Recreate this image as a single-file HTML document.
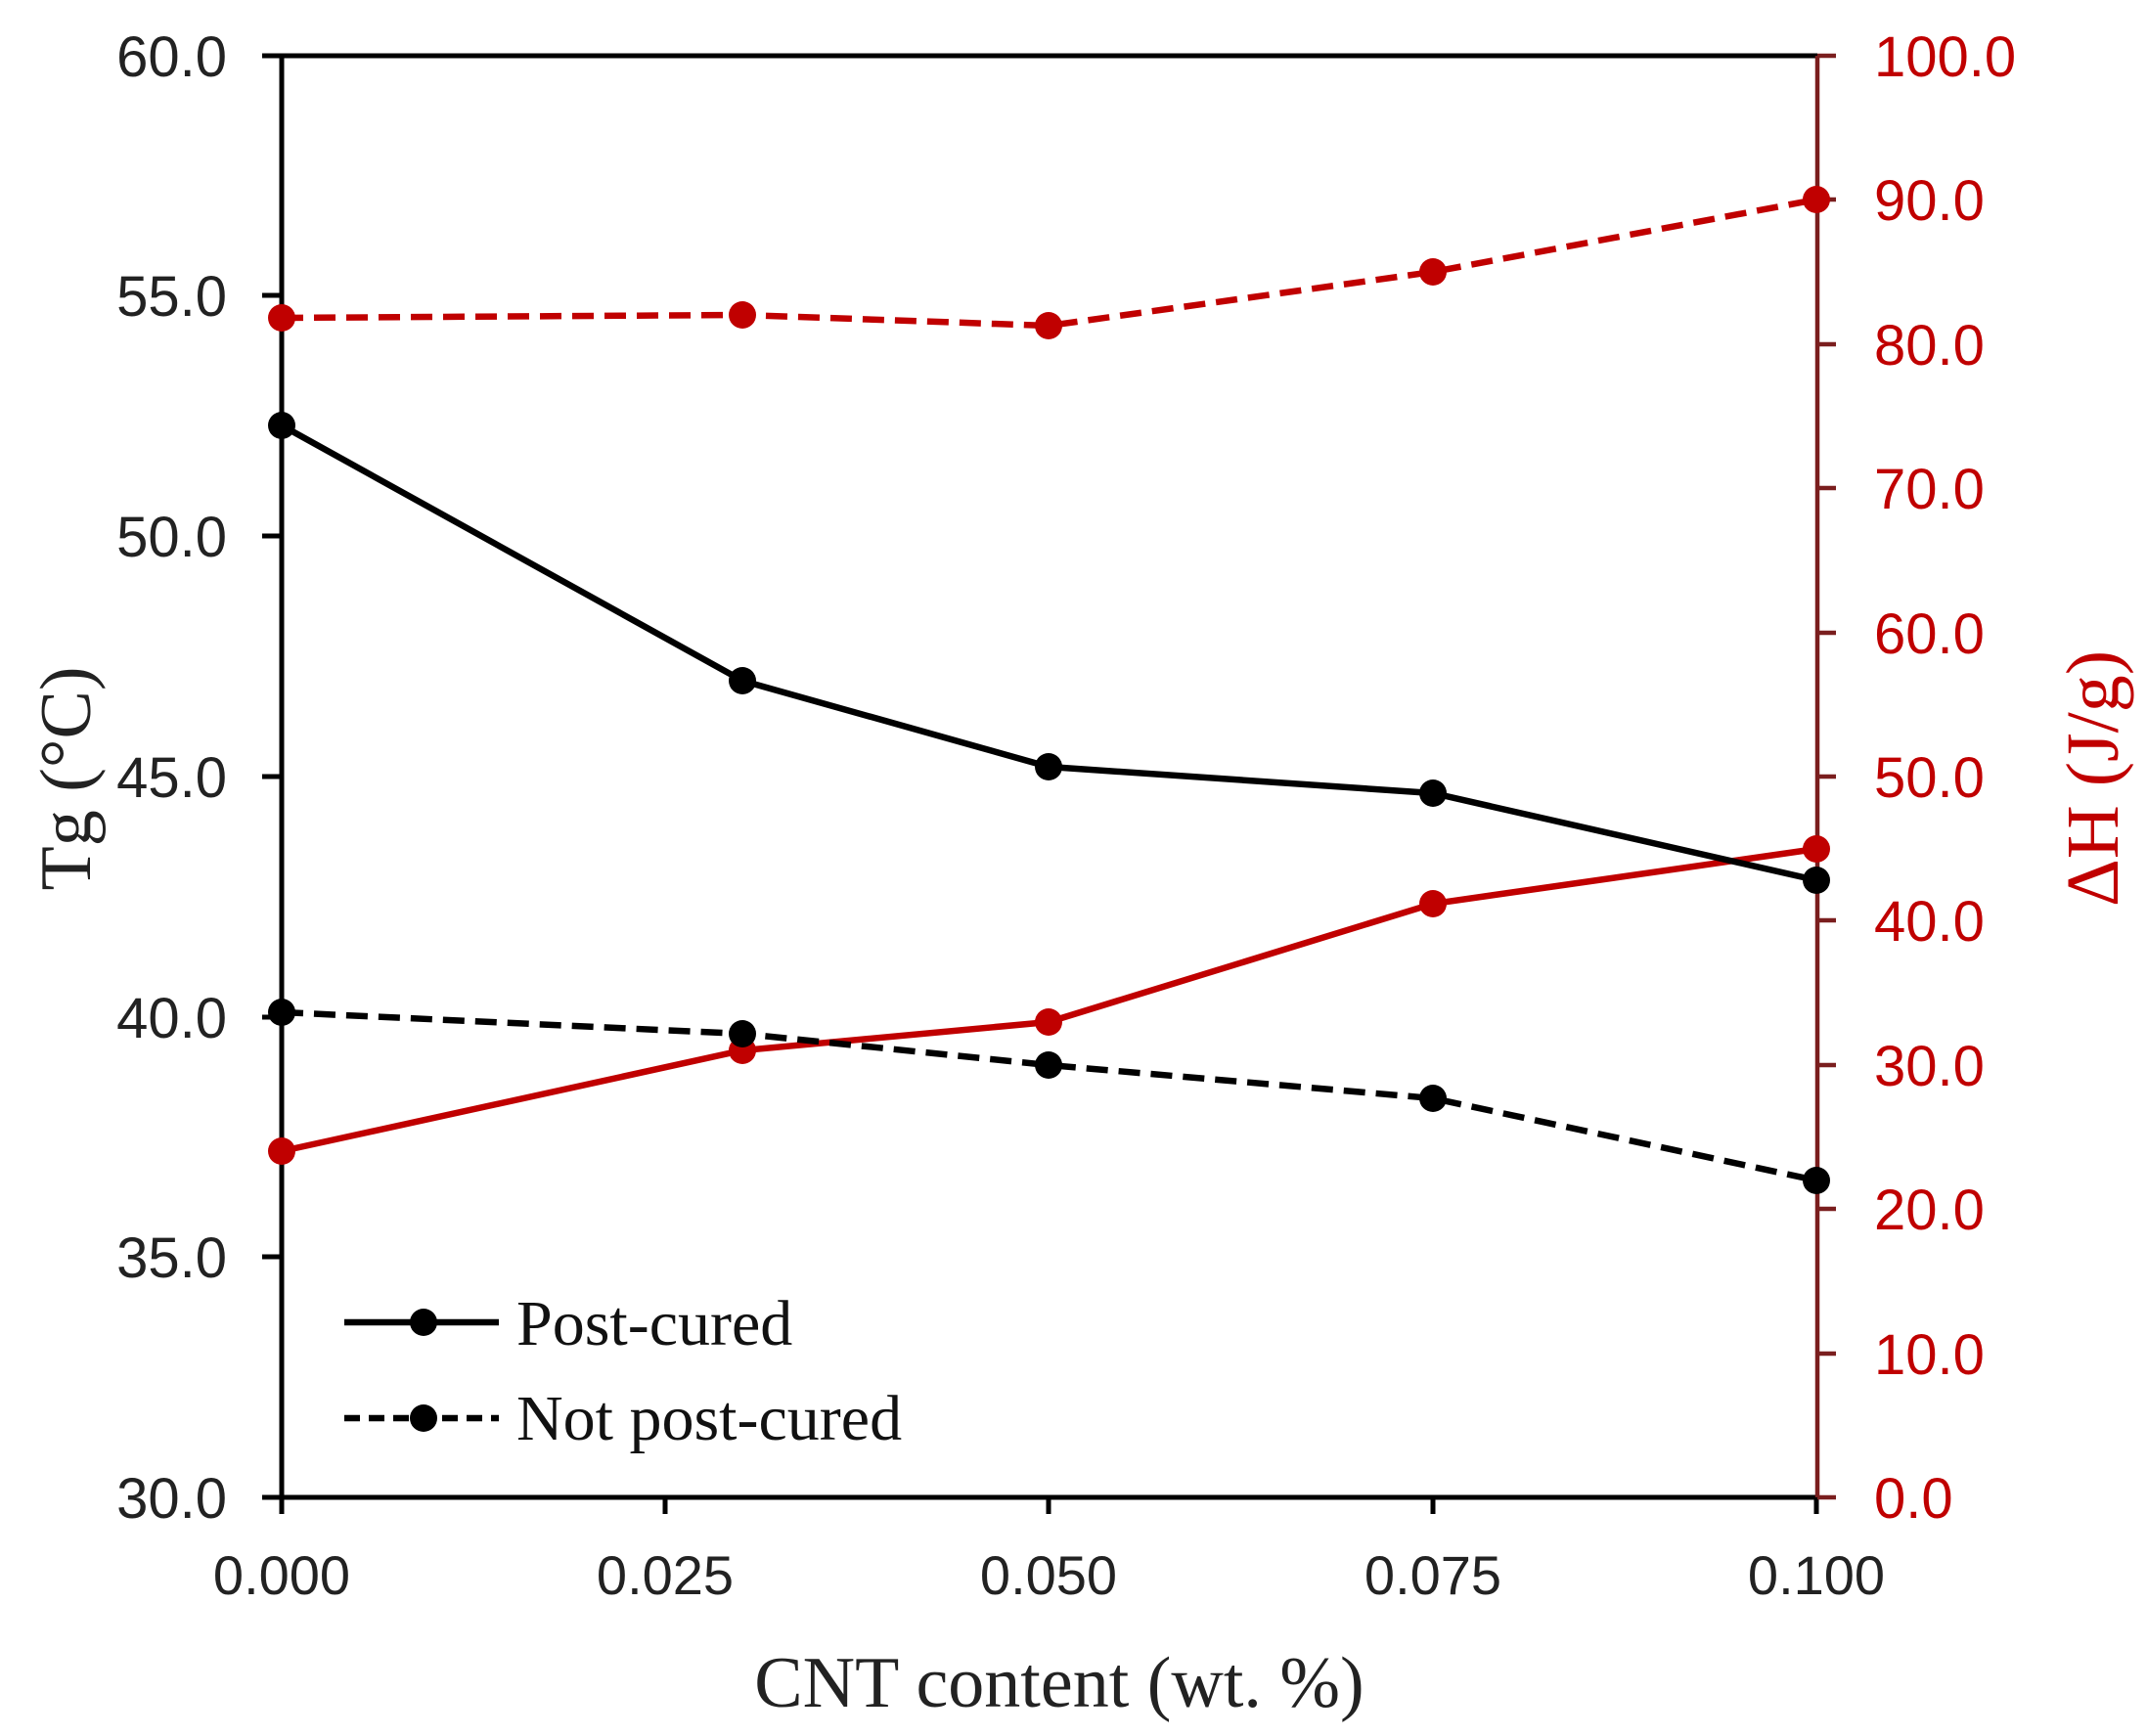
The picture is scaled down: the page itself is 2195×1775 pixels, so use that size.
<!DOCTYPE html>
<html><head><meta charset="utf-8"><style>html,body{margin:0;padding:0;background:#fff;}</style></head>
<body>
<svg width="2195" height="1770" viewBox="0 0 2195 1770" xmlns="http://www.w3.org/2000/svg">
<rect width="2195" height="1770" fill="#fff"/>
<g stroke="#000" stroke-width="5" fill="none">
<line x1="288" y1="57" x2="1858" y2="57"/>
<line x1="288" y1="55" x2="288" y2="1548"/>
<line x1="268" y1="1531" x2="1858" y2="1531"/>
<line x1="268" y1="57" x2="288" y2="57"/>
<line x1="268" y1="302" x2="288" y2="302"/>
<line x1="268" y1="548" x2="288" y2="548"/>
<line x1="268" y1="794" x2="288" y2="794"/>
<line x1="268" y1="1040" x2="288" y2="1040"/>
<line x1="268" y1="1285" x2="288" y2="1285"/>
<line x1="680" y1="1531" x2="680" y2="1548"/>
<line x1="1072" y1="1531" x2="1072" y2="1548"/>
<line x1="1465" y1="1531" x2="1465" y2="1548"/>
<line x1="1857" y1="1531" x2="1857" y2="1548"/>
</g>
<g stroke="#7a1e1e" stroke-width="4.5" fill="none">
<line x1="1858" y1="57" x2="1858" y2="1531"/>
<line x1="1858" y1="57" x2="1877" y2="57"/>
<line x1="1858" y1="204" x2="1877" y2="204"/>
<line x1="1858" y1="352" x2="1877" y2="352"/>
<line x1="1858" y1="499" x2="1877" y2="499"/>
<line x1="1858" y1="647" x2="1877" y2="647"/>
<line x1="1858" y1="794" x2="1877" y2="794"/>
<line x1="1858" y1="941" x2="1877" y2="941"/>
<line x1="1858" y1="1089" x2="1877" y2="1089"/>
<line x1="1858" y1="1236" x2="1877" y2="1236"/>
<line x1="1858" y1="1384" x2="1877" y2="1384"/>
<line x1="1858" y1="1531" x2="1877" y2="1531"/>
</g>
<g font-family="Liberation Sans, sans-serif" font-size="58" fill="#222" text-anchor="end">
<text x="232" y="78">60.0</text>
<text x="232" y="323">55.0</text>
<text x="232" y="569">50.0</text>
<text x="232" y="815">45.0</text>
<text x="232" y="1061">40.0</text>
<text x="232" y="1306">35.0</text>
<text x="232" y="1552">30.0</text>
</g>
<g font-family="Liberation Sans, sans-serif" font-size="58" fill="#c00000" text-anchor="start">
<text x="1916" y="78">100.0</text>
<text x="1916" y="225">90.0</text>
<text x="1916" y="373">80.0</text>
<text x="1916" y="520">70.0</text>
<text x="1916" y="668">60.0</text>
<text x="1916" y="815">50.0</text>
<text x="1916" y="962">40.0</text>
<text x="1916" y="1110">30.0</text>
<text x="1916" y="1257">20.0</text>
<text x="1916" y="1405">10.0</text>
<text x="1916" y="1552">0.0</text>
</g>
<g font-family="Liberation Sans, sans-serif" font-size="56" fill="#222" text-anchor="middle">
<text x="288" y="1630">0.000</text>
<text x="680" y="1630">0.025</text>
<text x="1072" y="1630">0.050</text>
<text x="1465" y="1630">0.075</text>
<text x="1857" y="1630">0.100</text>
</g>
<text x="1083" y="1745" font-family="Liberation Serif, serif" font-size="74" fill="#222" text-anchor="middle">CNT content (wt. %)</text>
<text transform="translate(92,796) rotate(-90)" font-family="Liberation Serif, serif" font-size="74" fill="#222" text-anchor="middle">Tg (°C)</text>
<text transform="translate(2165,796) rotate(-90)" font-family="Liberation Serif, serif" font-size="76" fill="#c00000" text-anchor="middle">ΔH (J/g)</text>
<g fill="none" stroke-width="6.5">
<polyline stroke="#c00000" stroke-dasharray="22,11" points="288,325 759,322 1072,333 1465,278 1857,204"/>
<polyline stroke="#c00000" points="288,1177 759,1074 1072,1045 1465,924 1857,868"/>
<polyline stroke="#000" points="288,435 759,696 1072,784 1465,811 1857,900"/>
<polyline stroke="#000" stroke-dasharray="22,11" points="288,1035 759,1057 1072,1089 1465,1123 1857,1207"/>
</g>
<g fill="#c00000">
<circle cx="288" cy="325" r="14"/><circle cx="759" cy="322" r="14"/><circle cx="1072" cy="333" r="14"/><circle cx="1465" cy="278" r="14"/><circle cx="1857" cy="204" r="14"/>
<circle cx="288" cy="1177" r="14"/><circle cx="759" cy="1074" r="14"/><circle cx="1072" cy="1045" r="14"/><circle cx="1465" cy="924" r="14"/><circle cx="1857" cy="868" r="14"/>
</g>
<g fill="#000">
<circle cx="288" cy="435" r="14"/><circle cx="759" cy="696" r="14"/><circle cx="1072" cy="784" r="14"/><circle cx="1465" cy="811" r="14"/><circle cx="1857" cy="900" r="14"/>
<circle cx="288" cy="1035" r="14"/><circle cx="759" cy="1057" r="14"/><circle cx="1072" cy="1089" r="14"/><circle cx="1465" cy="1123" r="14"/><circle cx="1857" cy="1207" r="14"/>
</g>
<line x1="352" y1="1352" x2="510" y2="1352" stroke="#000" stroke-width="6.5"/>
<circle cx="433" cy="1352" r="14" fill="#000"/>
<line x1="352" y1="1450" x2="510" y2="1450" stroke="#000" stroke-width="6.5" stroke-dasharray="16,9"/>
<circle cx="433" cy="1450" r="14" fill="#000"/>
<g font-family="Liberation Serif, serif" font-size="66" fill="#111">
<text x="528" y="1375">Post-cured</text>
<text x="528" y="1472">Not post-cured</text>
</g>
</svg>
</body></html>
